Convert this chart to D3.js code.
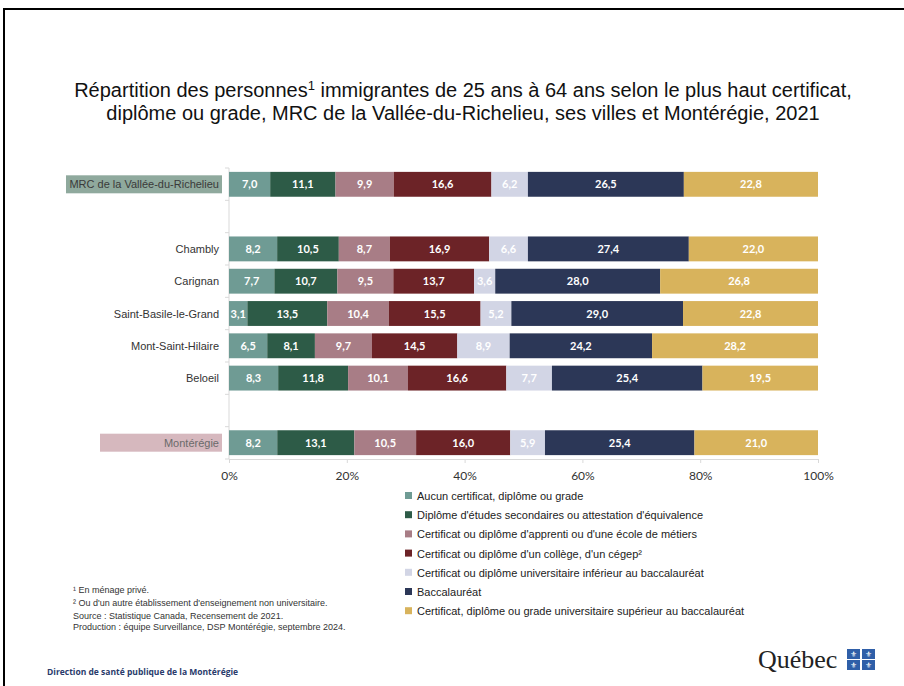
<!DOCTYPE html>
<html>
<head>
<meta charset="utf-8">
<script src="https://cdn.jsdelivr.net/npm/d3@7"></script>
<style>
  body { margin: 0; background: #fff; }
  svg text { font-family: "Liberation Sans Narrow", "Liberation Sans", Arial, sans-serif; }
</style>
</head>
<body>
<svg id="chart" width="904" height="686"></svg>
<script>
// rows of the chart, "" entries are the blank gaps
var categories = ["MRC de la Vallée-du-Richelieu", "", "Chambly", "Carignan", "Saint-Basile-le-Grand", "Mont-Saint-Hilaire", "Beloeil", " ", "Montérégie"];

var seriesNames = [
  "Aucun certificat, diplôme ou grade",
  "Diplôme d'études secondaires ou attestation d'équivalence",
  "Certificat ou diplôme d'apprenti ou d'une école de métiers",
  "Certificat ou diplôme d'un collège, d'un cégep²",
  "Certificat ou diplôme universitaire inférieur au baccalauréat",
  "Baccalauréat",
  "Certificat, diplôme ou grade universitaire supérieur au baccalauréat"
];

var aucun     = [7.0, null, 8.2, 7.7, 3.1, 6.5, 8.3, null, 8.2];
var secondaire = [11.1, null, 10.5, 10.7, 13.5, 8.1, 11.8, null, 13.1];
var apprenti  = [9.9, null, 8.7, 9.5, 10.4, 9.7, 10.1, null, 10.5];
var college   = [16.6, null, 16.9, 13.7, 15.5, 14.5, 16.6, null, 16.0];
var univInf   = [6.2, null, 6.6, 3.6, 5.2, 8.9, 7.7, null, 5.9];
var bacc      = [26.5, null, 27.4, 28.0, 29.0, 24.2, 25.4, null, 25.4];
var superieur = [22.8, null, 22.0, 26.8, 22.8, 28.2, 19.5, null, 21.0];

var tickValues = [0, 0.2, 0.4, 0.6, 0.8, 1];

var colors = ["#6f9b94", "#2d5b47", "#a87d86", "#6c2327", "#d2d5e5", "#2c3757", "#d8b35c"];

var allSeries = [aucun, secondaire, apprenti, college, univInf, bacc, superieur];

var table = categories.map(function (c, i) {
  var row = { cat: c, blank: aucun[i] === null };
  allSeries.forEach(function (s, j) { row["s" + j] = s[i] === null ? 0 : s[i]; });
  return row;
});
var keys = allSeries.map(function (s, j) { return "s" + j; });

var svg = d3.select("#chart");

// frame
svg.append("line").attr("x1", 4).attr("x2", 904).attr("y1", 9).attr("y2", 9)
  .attr("stroke", "#000").attr("stroke-width", 2);
svg.append("line").attr("x1", 4).attr("x2", 4).attr("y1", 8).attr("y2", 686)
  .attr("stroke", "#000").attr("stroke-width", 2);

// title
var title = svg.append("text").attr("text-anchor", "middle").attr("fill", "#111")
  .style("font-size", "20px");
var t1 = title.append("tspan").attr("x", 463).attr("y", 97);
t1.append("tspan").text("Répartition des personnes");
t1.append("tspan").attr("dy", -7).style("font-size", "13px").text("1");
t1.append("tspan").attr("dy", 7).text(" immigrantes de 25 ans à 64 ans selon le plus haut certificat,");
title.append("tspan").attr("x", 463).attr("y", 120)
  .text("diplôme ou grade, MRC de la Vallée-du-Richelieu, ses villes et Montérégie, 2021");

var plotLeft = 229, plotRight = 818, plotTop = 168, plotBottom = 459;

var x = d3.scaleLinear().domain([0, 1]).range([plotLeft, plotRight]);
var y = d3.scaleBand().domain(categories).range([plotTop, plotBottom]).paddingInner(0.23).paddingOuter(0.12);

var stacked = d3.stack().keys(keys).offset(d3.stackOffsetExpand)(table);

// axes
var xAxis = svg.append("g").attr("transform", "translate(0," + plotBottom + ")")
  .call(d3.axisBottom(x).tickValues(tickValues).tickSize(4).tickFormat(d3.format(".0%")));
xAxis.select(".domain").attr("stroke", "#d9d9d9");
xAxis.selectAll(".tick line").attr("stroke", "#d9d9d9");
xAxis.selectAll(".tick text").attr("dy", 14).attr("fill", "#333")
  .style("font-family", "Lato, sans-serif").style("font-size", "12px");

var bounds = d3.range(categories.length + 1).map(function (i) { return plotTop + i * (plotBottom - plotTop) / categories.length; });
svg.append("line").attr("x1", plotLeft).attr("x2", plotLeft).attr("y1", plotTop).attr("y2", plotBottom)
  .attr("stroke", "#d9d9d9");
svg.selectAll(".ytick").data(bounds).enter().append("line")
  .attr("x1", plotLeft - 4).attr("x2", plotLeft).attr("y1", function (d) { return d; }).attr("y2", function (d) { return d; })
  .attr("stroke", "#d9d9d9");

// bars
var layers = svg.selectAll(".layer").data(stacked).enter().append("g")
  .attr("fill", function (d, i) { return colors[i]; });

layers.selectAll("rect").data(function (d) { return d.filter(function (p) { return !p.data.blank; }); })
  .enter().append("rect")
  .attr("x", function (d) { return x(d[0]); })
  .attr("width", function (d) { return x(d[1]) - x(d[0]); })
  .attr("y", function (d) { return y(d.data.cat); })
  .attr("height", y.bandwidth());

layers.each(function (layer) {
  d3.select(this).selectAll("text").data(layer.filter(function (p) { return !p.data.blank; }))
    .enter().append("text")
    .attr("x", function (d) { return (x(d[0]) + x(d[1])) / 2; })
    .attr("y", function (d) { return y(d.data.cat) + y.bandwidth() / 2 + 4; })
    .attr("text-anchor", "middle")
    .attr("fill", "#fff")
    .style("font-family", "Lato, sans-serif").style("font-weight", "bold").style("font-size", "11px")
    .text(function (d) { return d3.format(".1f")(d.data[layer.key]).replace(".", ","); });
});

// category labels
var labelBoxes = { "MRC de la Vallée-du-Richelieu": { fill: "#8fa99d", x: 66, text: "#3a3a3a" },
                   "Montérégie": { fill: "#d6b8be", x: 100, text: "#6a6a6a" } };
categories.forEach(function (c) {
  if (!c.trim()) return;
  var cy = y(c) + y.bandwidth() / 2;
  if (labelBoxes[c]) {
    svg.append("rect").attr("x", labelBoxes[c].x).attr("y", cy - 9)
      .attr("width", 222 - labelBoxes[c].x).attr("height", 18).attr("fill", labelBoxes[c].fill);
  }
  svg.append("text").attr("x", 219).attr("y", cy + 4).attr("text-anchor", "end")
    .attr("fill", labelBoxes[c] ? labelBoxes[c].text : "#333")
    .style("font-size", "11px").text(c);
});

// legend
var legend = svg.selectAll(".leg").data(seriesNames).enter().append("g")
  .attr("transform", function (d, i) { return "translate(405," + (496 + i * 19.2) + ")"; });
legend.append("rect").attr("x", 0).attr("y", -4).attr("width", 7).attr("height", 7)
  .attr("fill", function (d, i) { return colors[i]; });
legend.append("text").attr("x", 12).attr("y", 4).attr("fill", "#222")
  .style("font-size", "11px").text(function (d) { return d; });

// footnotes
var notes = ["¹ En ménage privé.", "² Ou d'un autre établissement d'enseignement non universitaire.",
  "Source : Statistique Canada, Recensement de 2021.", "Production : équipe Surveillance, DSP Montérégie, septembre 2024."];
var noteY = [593, 606, 619, 630];
notes.forEach(function (n, i) {
  svg.append("text").attr("x", 73).attr("y", noteY[i]).attr("fill", "#333")
    .style("font-size", "9px").text(n);
});

svg.append("text").attr("x", 47).attr("y", 675).attr("fill", "#2a3b6b")
  .style("font-family", "'Open Sans', sans-serif").style("font-weight", "bold").style("font-size", "8.5px")
  .text("Direction de santé publique de la Montérégie");

// Québec signature
svg.append("text").attr("x", 758).attr("y", 668).attr("fill", "#222")
  .style("font-family", "'Liberation Serif', serif").style("font-size", "26px").text("Québec");
[[847, 649], [862, 649], [847, 660], [862, 660]].forEach(function (p) {
  svg.append("rect").attr("x", p[0]).attr("y", p[1]).attr("width", 13).attr("height", 10).attr("fill", "#2f5fa8");
  svg.append("text").attr("x", p[0] + 6.5).attr("y", p[1] + 8).attr("text-anchor", "middle")
    .attr("fill", "#fff").style("font-size", "8px").text("⚜");
});
</script>
</body>
</html>
